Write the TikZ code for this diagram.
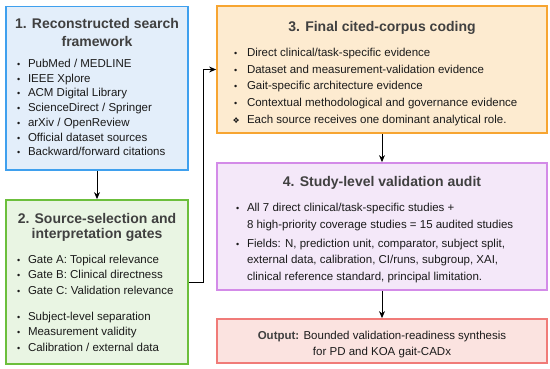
\documentclass[tikz,border=0pt]{standalone}
\usepackage{fontspec}
\setmainfont{Liberation Sans}
\newfontfamily\symfont{DejaVu Sans}
\usetikzlibrary{arrows.meta}

\definecolor{searchline}{HTML}{3FA0EE}
\definecolor{searchfill}{HTML}{E3EEFA}
\definecolor{gateline}{HTML}{6CBF3C}
\definecolor{gatefill}{HTML}{E9F5E3}
\definecolor{codeline}{HTML}{F7A531}
\definecolor{codefill}{HTML}{FDEBD0}
\definecolor{auditline}{HTML}{D38BE8}
\definecolor{auditfill}{HTML}{F4E8F9}
\definecolor{outline}{HTML}{F07B78}
\definecolor{outfill}{HTML}{FBE3E0}
\definecolor{titlegray}{HTML}{404040}
\definecolor{textgray}{HTML}{1A1A1A}

\newlength{\listindent}
\newlength{\bulletwd}
% box body: height, width, space above, contents
\newcommand{\boxtext}[4]{\begin{minipage}[t][#1][t]{#2}\vspace*{#3}\color{textgray}#4\end{minipage}}
\newcommand{\stagetitle}[2][17.7]{{\centering\fontsize{14}{#1}\selectfont\bfseries\color{titlegray}#2\par}}
\newcommand{\bl}[2][\small\textbullet]{\hangindent=\dimexpr\listindent+\bulletwd\relax\hangafter=1
  \hspace*{\listindent}\makebox[\bulletwd][l]{#1}#2\par}

\tikzset{
  stage/.style={draw, line width=1.8pt, inner sep=0pt},
  link/.style={-{Stealth[length=7pt,width=6pt]}, line width=1pt, black},
}

\begin{document}
\begin{tikzpicture}[x=1pt, y=-1pt]
\useasboundingbox (0,0) rectangle (550,368);

% Search framework
\node[stage, draw=searchline, fill=searchfill] (search) at (97,88.25)
  {\boxtext{163.5pt}{182pt}{11.7pt}{%
  \stagetitle{1. Reconstructed search\\framework}\vspace{6.8pt}%
  \fontsize{11.5}{14.7}\selectfont
  \setlength{\listindent}{11pt}\setlength{\bulletwd}{11pt}%
  \bl{PubMed / MEDLINE}
  \bl{IEEE Xplore}
  \bl{ACM Digital Library}
  \bl{ScienceDirect / Springer}
  \bl{arXiv / OpenReview}
  \bl{Official dataset sources}
  \bl{Backward/forward citations}}};

% Selection gates
\node[stage, draw=gateline, fill=gatefill] (gates) at (97,282)
  {\boxtext{164pt}{182pt}{12.9pt}{%
  \stagetitle[15.7]{2. Source-selection and\\interpretation gates}\vspace{8.8pt}%
  \fontsize{11.5}{15.5}\selectfont
  \setlength{\listindent}{11pt}\setlength{\bulletwd}{11pt}%
  \bl{Gate A: Topical relevance}
  \bl{Gate B: Clinical directness}
  \bl{Gate C: Validation relevance}
  \vspace{10.5pt}
  \bl{Subject-level separation}
  \bl{Measurement validity}
  \bl{Calibration / external data}}};

% Corpus coding
\node[stage, draw=codeline, fill=codefill] (coding) at (382,69.5)
  {\boxtext{127pt}{330pt}{15pt}{%
  \stagetitle{3. Final cited-corpus coding}\vspace{8.3pt}%
  \fontsize{11.5}{16.8}\selectfont
  \setlength{\listindent}{17pt}\setlength{\bulletwd}{13pt}%
  \bl{Direct clinical/task-specific evidence}
  \bl{Dataset and measurement-validation evidence}
  \bl{Gait-specific architecture evidence}
  \bl{Contextual methodological and governance evidence}
  \bl[\hspace{-1.5pt}\symfont\footnotesize ❖]{Each source receives one dominant analytical role.}}};

% Validation audit
\node[stage, draw=auditline, fill=auditfill] (audit) at (382,226.5)
  {\boxtext{127pt}{330pt}{13.2pt}{%
  \stagetitle{4. Study-level validation audit}\vspace{8.3pt}%
  \fontsize{11.5}{16.8}\selectfont
  \setlength{\listindent}{19pt}\setlength{\bulletwd}{11pt}%
  \bl{All 7 direct clinical/task-specific studies +\newline 8 high-priority coverage studies = 15 audited studies}
  \vspace{2pt}
  \bl{Fields: N, prediction unit, comparator, subject split,\newline external data, calibration, CI/runs, subgroup, XAI,\newline clinical reference standard, principal limitation.}}};

% Output
\node[stage, draw=outline, fill=outfill] (output) at (382,341)
  {\boxtext{44pt}{330pt}{11.8pt}{%
  \centering\fontsize{11.5}{16.5}\selectfont
  {\bfseries\color{titlegray}Output:} Bounded validation-readiness synthesis\\for PD and KOA gait-CADx\par}};

% Connectors
\draw[link] (search) -- (gates);
\draw[link] (gates.east) -- ++(15,0) |- (coding.west);
\draw[link] (coding) -- (audit);
\draw[link] (audit) -- (output);
\end{tikzpicture}
\end{document}
